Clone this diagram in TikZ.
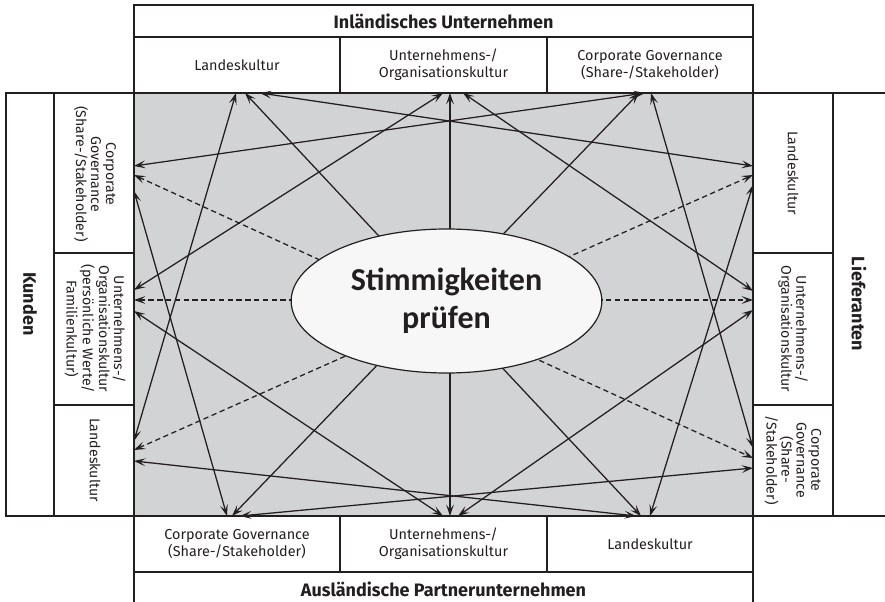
\documentclass[tikz,border=0pt]{standalone}
\usepackage{fontspec}
\setmainfont{Fira Sans}
\newfontfamily\ovalfont{Carlito}
\usetikzlibrary{arrows.meta,shapes.geometric}

\definecolor{panelgrey}{RGB}{209,211,212}
\definecolor{ovalfill}{RGB}{247,247,247}
\definecolor{ink}{RGB}{35,31,32}

\begin{document}
\begin{tikzpicture}[x=0.75pt, y=-0.75pt,
    frame/.style={draw=ink, line width=1.5pt},
    cell/.style={text=ink, font=\fontsize{10.8}{12.6}\selectfont, align=center, inner sep=0pt},
    sidecell/.style={cell, rotate=-90, font=\fontsize{10.6}{11.2}\selectfont},
    head/.style={text=ink, font=\fontsize{13.5}{15}\selectfont\bfseries, inner sep=0pt},
    link/.style={draw=ink, line width=0.95pt, {Stealth[length=8.5pt,width=5.8pt,inset=3.7pt]}-{Stealth[length=8.5pt,width=5.8pt,inset=3.7pt]}},
    dlink/.style={link, dash pattern=on 4pt off 2.6pt},
    oval/.style={ellipse, draw=ink, line width=0.9pt, fill=ovalfill, inner sep=0pt,
      minimum width=233pt, minimum height=108pt, text=ink, align=center,
      font=\ovalfont\fontsize{24}{28.5}\selectfont\bfseries}]
  \useasboundingbox (0,0) rectangle (885,602);

  % grey field
  \fill[panelgrey] (134,93) rectangle (753,516);

  % Inlaendisches Unternehmen (top)
  \draw[frame] (134,5) rectangle (753,37);
  \draw[frame] (134,37) rectangle (753,93);
  \draw[frame] (340,37) -- (340,93) (547,37) -- (547,93);
  \node[head] (top) at (443.5,21) {Inländisches Unternehmen};
  \node[cell] (tL) at (237,65) {Landeskultur};
  \node[cell] (tM) at (443.5,65) {Unternehmens-/\\Organisationskultur};
  \node[cell] (tR) at (650,65) {Corporate Governance\\(Share-/Stakeholder)};

  % Auslaendische Partnerunternehmen (bottom)
  \draw[frame] (134,516) rectangle (753,572);
  \draw[frame] (134,572) rectangle (753,612);
  \draw[frame] (340,516) -- (340,572) (547,516) -- (547,572);
  \node[head] (bot) at (443.5,589) {Ausländische Partnerunternehmen};
  \node[cell] (bL) at (237,544) {Corporate Governance\\(Share-/Stakeholder)};
  \node[cell] (bM) at (443.5,544) {Unternehmens-/\\Organisationskultur};
  \node[cell] (bR) at (650,544) {Landeskultur};

  % Kunden (left)
  \draw[frame] (6,93) rectangle (134,516);
  \draw[frame] (54,93) -- (54,516) (54,253) -- (134,253) (54,405) -- (134,405);
  \node[head, rotate=-90] (left) at (30,304) {Kunden};
  \node[sidecell] (lT) at (95,174) {Corporate\\Governance\\(Share-/Stakeholder)};
  \node[sidecell] (lM) at (95,329) {Unternehmens-/\\Organisationskultur\\(persönliche Werte/\\Familienkultur)};
  \node[sidecell] (lB) at (95,460) {Landeskultur};

  % Lieferanten (right)
  \draw[frame] (753,93) rectangle (892,516);
  \draw[frame] (833,93) -- (833,516) (753,253) -- (833,253) (753,405) -- (833,405);
  \node[head, rotate=-90] (right) at (859,304) {Lieferanten};
  \node[sidecell] (rT) at (793,173) {Landeskultur};
  \node[sidecell] (rM) at (793,329) {Unternehmens-/\\Organisationskultur};
  \node[sidecell] (rB) at (793,460) {Corporate\\Governance\\(Share-\\/Stakeholder)};

  % end points on the grey field
  \coordinate (tL-1) at (236,93);  \coordinate (tL-2) at (245,93);  \coordinate (tL-3) at (260,93);
  \coordinate (tM-1) at (443,93);  \coordinate (tM-2) at (450,93);  \coordinate (tM-3) at (463,93);
  \coordinate (tR-1) at (639,93);  \coordinate (tR-2) at (645,93);  \coordinate (tR-3) at (651,93);
  \coordinate (bL-1) at (227,516); \coordinate (bL-2) at (232,516); \coordinate (bL-3) at (240,516);
  \coordinate (bM-1) at (443,516); \coordinate (bM-2) at (450,516); \coordinate (bM-3) at (458,516);
  \coordinate (bR-1) at (636,516); \coordinate (bR-2) at (641,516); \coordinate (bR-3) at (650,516);
  \coordinate (lT-1) at (134,166); \coordinate (lT-2) at (134,175); \coordinate (lT-3) at (134,191);
  \coordinate (lM-1) at (134,290); \coordinate (lM-2) at (134,300); \coordinate (lM-3) at (134,311);
  \coordinate (lB-1) at (134,441); \coordinate (lB-2) at (134,450); \coordinate (lB-3) at (134,461);
  \coordinate (rT-1) at (753,166); \coordinate (rT-2) at (753,175); \coordinate (rT-3) at (753,185);
  \coordinate (rM-1) at (753,291); \coordinate (rM-2) at (753,300); \coordinate (rM-3) at (753,310);
  \coordinate (rB-1) at (753,448); \coordinate (rB-2) at (753,458); \coordinate (rB-3) at (753,468);

  % solid links
  \draw[link] (tL-1) -- (lB-1);
  \draw[link] (tL-2) -- (bR-2);
  \draw[link] (tL-3) -- (rT-1);
  \draw[link] (tM-1) -- (lM-1);
  \draw[link] (tM-2) -- (bM-2);
  \draw[link] (tM-3) -- (rM-1);
  \draw[link] (tR-2) -- (lT-1);
  \draw[link] (tR-1) -- (bL-2);
  \draw[link] (tR-3) -- (rB-1);
  \draw[link] (lT-3) -- (bL-1);
  \draw[link] (lM-3) -- (bM-1);
  \draw[link] (lB-3) -- (bR-1);
  \draw[link] (rT-3) -- (bR-3);
  \draw[link] (rM-3) -- (bM-3);
  \draw[link] (rB-3) -- (bL-3);

  % dashed links
  \draw[dlink] (lT-2) -- (rB-2);
  \draw[dlink] (lM-2) -- (rM-2);
  \draw[dlink] (lB-2) -- (rT-2);

  \node[oval] (check) at (446.5,301) {Stimmigkeiten\\prüfen};
\end{tikzpicture}
\end{document}
